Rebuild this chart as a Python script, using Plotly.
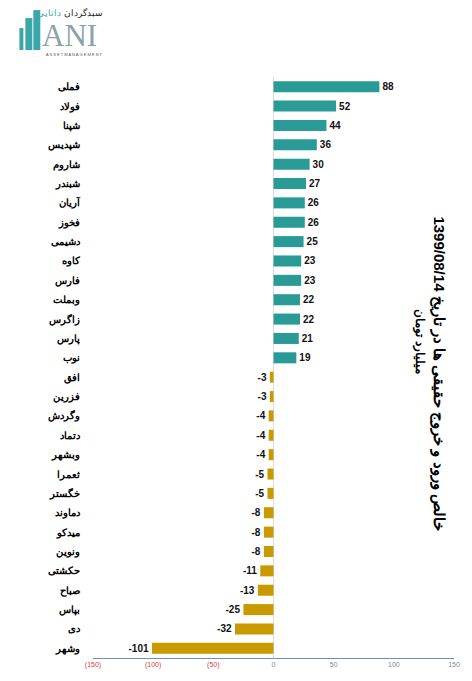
import plotly.graph_objects as go

symbols = ["فملی", "فولاد", "شپنا", "شپدیس", "شاروم", "شبندر", "آریان", "فخوز",
           "دشیمی", "کاوه", "فارس", "وبملت", "زاگرس", "پارس", "نوب",
           "افق", "فزرین", "وگردش", "دتماد", "وبشهر", "ثعمرا", "خگستر",
           "دماوند", "میدکو", "ونوین", "حکشتی", "صباح", "بپاس", "دی", "وشهر"]
net_flow = [88, 52, 44, 36, 30, 27, 26, 26, 25, 23, 23, 22, 22, 21, 19,
            -3, -3, -4, -4, -4, -5, -5, -8, -8, -8, -11, -13, -25, -32, -101]

tick_vals = [-150, -100, -50, 0, 50, 100, 150]
tick_text = ['<span style="color:#e03c3c">(150)</span>',
             '<span style="color:#e03c3c">(100)</span>',
             '<span style="color:#e03c3c">(50)</span>',
             "0", "50", "100", "150"]

title = "خالص ورود و خروج حقیقی ها در تاریخ 1399/08/14"
unit = "میلیارد تومان"

# page body has an 8px margin, so the figure is drawn 8px in from the corner
OFF = 8
W, H = 472 - OFF, 681 - OFF
ML, MR, MT, MB = 93 - OFF, 16, 77 - OFF, 22


def px(x):
    return (x - OFF - ML) / (W - ML - MR)


def py(y):
    return (H - MB - (y - OFF)) / (H - MT - MB)


colors = ["#2a9a96" if v > 0 else "#c99a00" for v in net_flow]

fig = go.Figure(go.Bar(
    x=net_flow,
    y=symbols,
    orientation="h",
    marker=dict(color=colors, line=dict(width=0)),
    text=["<b>%d</b>" % v for v in net_flow],
    textposition="outside",
    textfont=dict(size=10, color="#111111", family="Arial"),
    cliponaxis=False,
))

# logo
shapes = []
for x0, x1, y0 in [(19, 23, 28), (25, 32, 18), (33, 40, 10)]:
    shapes.append(dict(type="rect", xref="paper", yref="paper",
                       x0=px(x0), x1=px(x1), y0=py(50), y1=py(y0),
                       fillcolor="#3aa6a8", line=dict(width=0)))

annotations = [
    dict(text="<b>" + title + "</b>", textangle=90, x=px(440), y=py(374),
         xref="paper", yref="paper", showarrow=False,
         font=dict(size=15, color="#000000", family="Arial"),
         xanchor="center", yanchor="middle"),
    dict(text="<b>" + unit + "</b>", textangle=90, x=px(421), y=py(342),
         xref="paper", yref="paper", showarrow=False,
         font=dict(size=11.5, color="#000000", family="Arial"),
         xanchor="center", yanchor="middle"),
    dict(text="ANI", x=px(40), y=py(35), xref="paper", yref="paper",
         showarrow=False, xanchor="left", yanchor="middle",
         font=dict(size=31, color="#8aa3a8", family="Liberation Serif")),
    dict(text="A S S E T M A N A G E M E N T", x=px(74), y=py(54),
         xref="paper", yref="paper", showarrow=False, xanchor="center",
         yanchor="middle", font=dict(size=4, color="#555555", family="Arial")),
    dict(text="سبدگردان <span style='color:#3aa6a8'>دانایی</span>", x=px(105), y=py(13),
         xref="paper", yref="paper", showarrow=False, xanchor="right", yanchor="middle",
         font=dict(size=9, color="#222222", family="Arial")),
]

fig.update_layout(
    width=W, height=H,
    margin=dict(l=ML, r=MR, t=MT, b=MB),
    plot_bgcolor="white", paper_bgcolor="white",
    showlegend=False,
    bargap=0.43,
    shapes=shapes,
    annotations=annotations,
    font=dict(family="Arial"),
)
fig.update_xaxes(
    range=[-150, 150], tickvals=tick_vals, ticktext=tick_text,
    tickfont=dict(size=7, color="#888888"),
    showgrid=False, zeroline=True, zerolinecolor="#dddddd", zerolinewidth=1,
    showline=True, linecolor="#6a92b8", linewidth=1,
    ticks="", fixedrange=True,
)
fig.update_yaxes(
    autorange="reversed", showgrid=False, showline=False,
    tickfont=dict(size=10, color="#000000", family="Arial"),
    tickprefix="<b>", ticksuffix="</b>",
    ticklabelstandoff=12, ticks="",
)

fig.write_html("out.html")
